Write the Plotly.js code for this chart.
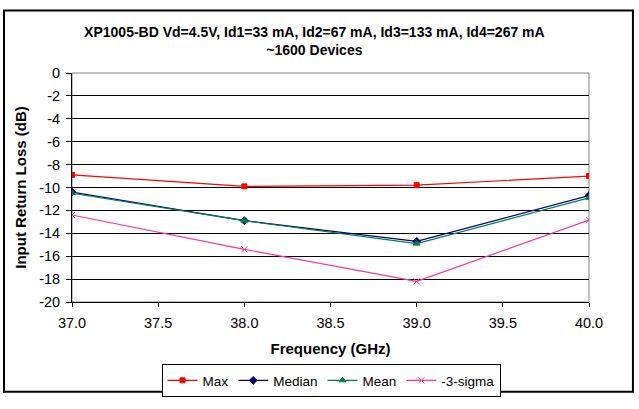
<!DOCTYPE html>
<html>
<head>
<meta charset="utf-8">
<script src="https://cdn.plot.ly/plotly-3.0.1.min.js"></script>
<style>
html,body{margin:0;padding:0;background:#fff;}
#chart{width:639px;height:409px;}
</style>
</head>
<body>
<div id="chart"></div>
<script>
const freq = [37.0, 38.0, 39.0, 40.0];
const maxVals = [-8.9, -9.9, -9.8, -9.0];
const medianVals = [-10.4, -12.9, -14.7, -10.7];
const meanVals = [-10.5, -12.9, -14.9, -10.9];
const sigmaVals = [-12.4, -15.4, -18.2, -12.85];
const seriesNames = ['Max', 'Median', 'Mean', '-3-sigma'];
const xTickVals = [37.0, 37.5, 38.0, 38.5, 39.0, 39.5, 40.0];
const xTickText = ['37.0', '37.5', '38.0', '38.5', '39.0', '39.5', '40.0'];
const yTickVals = [0, -2, -4, -6, -8, -10, -12, -14, -16, -18, -20];
const yTickText = ['0', '-2', '-4', '-6', '-8', '-10', '-12', '-14', '-16', '-18', '-20'];

const FONT = 'Liberation Sans, Arial, sans-serif';

function mk(name, y, color, symbol, size) {
  return {
    x: freq, y: y, name: name, type: 'scatter', mode: 'lines+markers',
    line: {color: color, width: 1.2},
    marker: {color: color, symbol: symbol, size: size, line: {color: color, width: 1}}
  };
}

const data = [
  mk(seriesNames[0], maxVals, '#FF0000', 'square', 5),
  mk(seriesNames[1], medianVals, '#000080', 'diamond', 6),
  mk(seriesNames[2], meanVals, '#008040', 'triangle-up', 6),
  mk(seriesNames[3], sigmaVals, '#FF3399', 'x-thin-open', 6)
];

const layout = {
  width: 639, height: 409,
  margin: {l: 72, r: 50, t: 73, b: 96},
  paper_bgcolor: '#fff', plot_bgcolor: '#fff',
  font: {family: FONT, size: 14, color: '#000'},
  title: {
    text: '<b>XP1005-BD Vd=4.5V, Id1=33 mA, Id2=67 mA, Id3=133 mA, Id4=267 mA<br>~1600 Devices</b>',
    font: {family: FONT, size: 14, color: '#000'},
    x: 0.492, xanchor: 'center', y: 0.91, yanchor: 'middle'
  },
  showlegend: true,
  legend: {
    orientation: 'h', x: 0.501, xanchor: 'center', y: -0.271, yanchor: 'top',
    bordercolor: '#000', borderwidth: 1, font: {family: FONT, size: 13.5},
    itemwidth: 30, tracegroupgap: 0
  },
  xaxis: {
    range: [37, 40], tickvals: xTickVals, ticktext: xTickText,
    showgrid: false, zeroline: false,
    showline: true, linecolor: '#000', linewidth: 1,
    ticks: 'outside', ticklen: 4, tickcolor: '#000', ticklabelstandoff: 4,
    tickfont: {family: FONT, size: 14.5},
    title: {text: '<b>Frequency (GHz)</b>', font: {family: FONT, size: 15}, standoff: 13}
  },
  yaxis: {
    range: [-20, 0], tickvals: yTickVals, ticktext: yTickText,
    showgrid: true, gridcolor: '#000', gridwidth: 1, zeroline: false,
    showline: true, linecolor: '#000', linewidth: 1,
    ticks: 'outside', ticklen: 5, tickcolor: '#000', ticklabelstandoff: 3,
    tickfont: {family: FONT, size: 14.5},
    title: {text: '<b>Input Return Loss (dB)</b>', font: {family: FONT, size: 15}, standoff: 8}
  },
  shapes: [
    {type: 'rect', xref: 'paper', yref: 'paper', x0: 0, x1: 1, y0: 0, y1: 1,
     line: {color: '#808080', width: 1}, layer: 'below'},
    {type: 'rect', xref: 'paper', yref: 'paper', x0: -0.1315, x1: 1.085, y0: -0.392, y1: 1.273,
     line: {color: '#000', width: 2}, layer: 'below'}
  ]
};

Plotly.newPlot('chart', data, layout, {displayModeBar: false, staticPlot: true});
</script>
</body>
</html>
